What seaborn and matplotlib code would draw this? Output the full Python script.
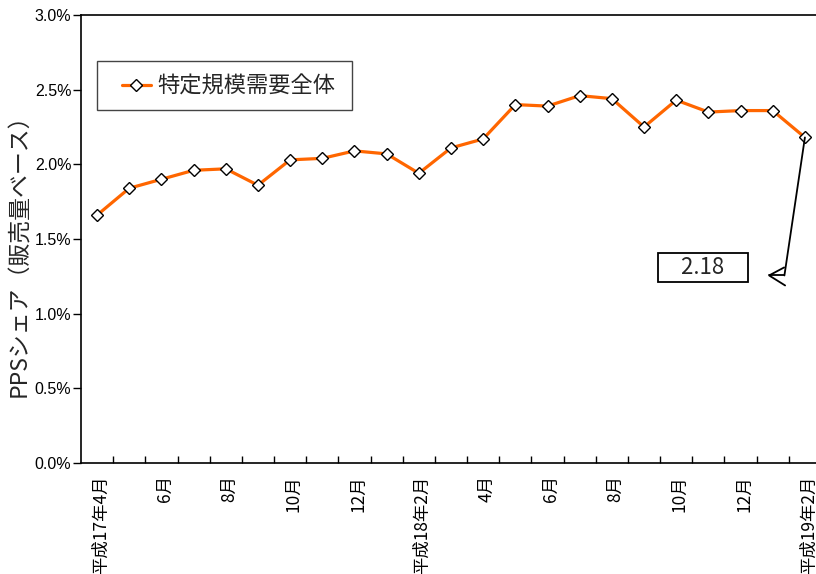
import numpy as np
import pandas as pd
import matplotlib
matplotlib.use("Agg")
import matplotlib.pyplot as plt
from matplotlib.patches import Rectangle
from matplotlib.transforms import ScaledTranslation
from matplotlib.ticker import FuncFormatter, MultipleLocator, FixedLocator
import seaborn as sns

# Monthly PPS share (%) of total specified-scale demand, Apr H17 .. Feb H19
share = [1.66, 1.84, 1.90, 1.96, 1.97, 1.86, 2.03, 2.04, 2.09, 2.07, 1.94, 2.11,
         2.17, 2.40, 2.39, 2.46, 2.44, 2.25, 2.43, 2.35, 2.36, 2.36, 2.18]
tick_labels = ['平成17年4月', '6月', '8月', '10月', '12月', '平成18年2月',
               '4月', '6月', '8月', '10月', '12月', '平成19年2月']
series_name = '特定規模需要全体'
y_label = 'PPSシェア（販売量ベース）'

sns.set_theme(style="white")
plt.rcParams['font.family'] = ['Noto Sans CJK JP', 'DejaVu Sans']
narrow = ['Liberation Sans Narrow', 'Liberation Sans', 'DejaVu Sans']

df = pd.DataFrame({'pos': np.arange(len(share)), 'share': share})

fig = plt.figure(figsize=(8.16, 5.74), dpi=100)
ax = fig.add_axes([81 / 816, 111 / 574, 740 / 816, 448 / 574])

sns.lineplot(data=df, x='pos', y='share', ax=ax, color='#FF6600', linewidth=2.3,
             marker='D', markersize=6.5, markerfacecolor='white',
             markeredgecolor='black', markeredgewidth=1.0, label=series_name)

ax.set_xlim(-0.5, len(share) - 0.5)
ax.set_ylim(0, 3.0)

# y axis: percent ticks, outward
ax.yaxis.set_major_locator(MultipleLocator(0.5))
ax.yaxis.set_major_formatter(FuncFormatter(lambda v, _: f'{v:.1f}%'))
ax.tick_params(axis='y', direction='out', length=6, width=1, colors='black',
               labelsize=11.5, pad=1, left=True)
for lbl in ax.get_yticklabels():
    lbl.set_family(narrow)

# x axis: labels every other month, boundary ticks pointing inward
ax.xaxis.set_major_locator(FixedLocator(np.arange(0, len(share), 2)))
ax.set_xticklabels(tick_labels, rotation=90, va='top', ha='center', fontsize=12.5)
ax.xaxis.set_minor_locator(FixedLocator(np.arange(0.5, len(share) - 0.5, 1)))
ax.tick_params(axis='x', which='major', length=0, pad=9, colors='black')
ax.tick_params(axis='x', which='minor', direction='in', length=5, width=1,
               color='black', bottom=True)
shift = ScaledTranslation(0.035, 0, fig.dpi_scale_trans)
for lbl in ax.get_xticklabels():
    lbl.set_transform(lbl.get_transform() + shift)

ax.set_xlabel('')
ax.set_ylabel(y_label, fontsize=16.5)
ax.yaxis.set_label_coords(-0.068, 0.475)

for side in ['left', 'bottom', 'top', 'right']:
    ax.spines[side].set_visible(True)
    ax.spines[side].set_color('black')
    ax.spines[side].set_linewidth(1.2)

# legend: frameless entry inside a separately drawn box
leg = ax.legend(loc='center left', bbox_to_anchor=(122 / 816, 1 - 86 / 574),
                bbox_transform=fig.transFigure, fontsize=16, frameon=False,
                handlelength=1.3, handletextpad=0.3, borderpad=0,
                borderaxespad=0)
for h in leg.legend_handles:
    h.set_markersize(6)
fig.add_artist(Rectangle((97 / 816, 1 - 110 / 574), 255 / 816, 49 / 574,
                         transform=fig.transFigure, fill=False,
                         edgecolor='#444444', linewidth=1.0))

# callout for the latest value, drawn in pixel offsets from that point
last = len(share) - 1
anchor = ScaledTranslation(last, share[last], ax.transData)
callout = dict(color='black', lw=1.3, transform=anchor, clip_on=False, zorder=5,
               solid_joinstyle='miter')
ax.plot([0, -20.5], [0, -138], **callout)
ax.plot([-20.8, -35.8, -19.8], [-130, -138, -148], **callout)
ax.plot([-35.8, -20.5], [-138, -138], **callout)
ax.annotate(f'{share[last]:.2f}', xy=(last, share[last]), xycoords='data',
            xytext=(-102, -130), textcoords='offset pixels',
            ha='center', va='center', fontsize=16,
            bbox=dict(boxstyle='square,pad=0.15', fc='white', ec='black', lw=1.3),
            annotation_clip=False)
# widen the box to its drawn size
ann = ax.texts[-1]
ann.set_text('    ' + ann.get_text() + '    ')

fig.savefig('out.png', dpi=100)
